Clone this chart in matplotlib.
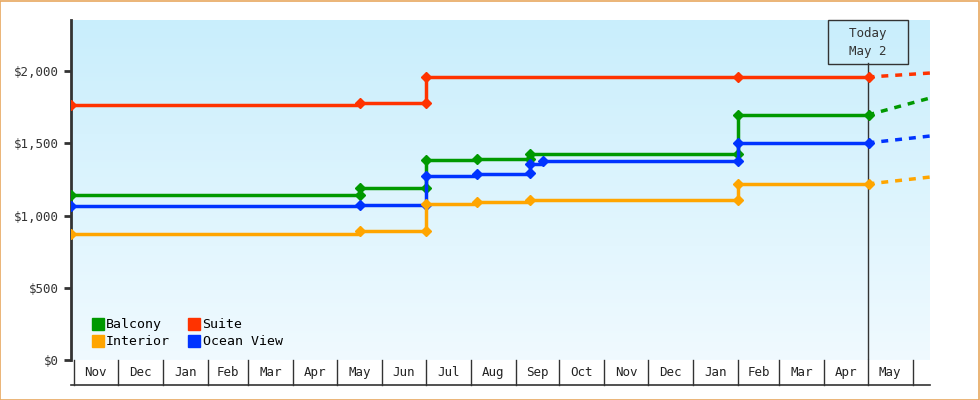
import numpy as np
import matplotlib.pyplot as plt
import matplotlib.dates as mdates
import matplotlib.transforms as mtransforms
from matplotlib.lines import Line2D
from matplotlib.patches import Rectangle
from datetime import date

plt.rcParams['font.family'] = ['DejaVu Sans Mono']

# price history per cabin type (date, price)
balcony_dates = ['2017-10-30', '2018-05-17', '2018-05-17', '2018-07-01', '2018-07-01', '2018-08-05',
                 '2018-09-11', '2018-09-11', '2019-02-01', '2019-02-01', '2019-05-02']
balcony_vals = [1142, 1142, 1190, 1190, 1384, 1391, 1391, 1425, 1425, 1695, 1695]
suite_dates = ['2017-10-30', '2018-05-17', '2018-07-01', '2018-07-01', '2019-02-01', '2019-05-02']
suite_vals = [1765, 1778, 1778, 1958, 1958, 1958]
ocean_dates = ['2017-10-30', '2018-05-17', '2018-07-01', '2018-07-01', '2018-08-05', '2018-09-11',
               '2018-09-11', '2018-09-20', '2019-02-01', '2019-02-01', '2019-05-02']
ocean_vals = [1066, 1073, 1073, 1273, 1287, 1294, 1356, 1377, 1377, 1502, 1502]
interior_dates = ['2017-10-30', '2018-05-17', '2018-07-01', '2018-07-01', '2018-08-05',
                  '2018-09-11', '2019-02-01', '2019-02-01', '2019-05-02']
interior_vals = [872, 893, 893, 1080, 1093, 1107, 1107, 1218, 1218]

# forecast end values
forecast_end = '2019-06-13'
forecast_vals = {'Balcony': 1813, 'Suite': 1986, 'Ocean View': 1550, 'Interior': 1266}

today = '2019-05-01'
months = ['Nov', 'Dec', 'Jan', 'Feb', 'Mar', 'Apr', 'May', 'Jun', 'Jul', 'Aug',
          'Sep', 'Oct', 'Nov', 'Dec', 'Jan', 'Feb', 'Mar', 'Apr', 'May']

series = [
    ('Balcony', balcony_dates, balcony_vals, '#009900'),
    ('Suite', suite_dates, suite_vals, '#ff3300'),
    ('Ocean View', ocean_dates, ocean_vals, '#0033ff'),
    ('Interior', interior_dates, interior_vals, '#ffa500'),
]

fig = plt.figure(figsize=(9.8, 4), dpi=100)
fig.patches.append(Rectangle((0.0005, 0.001), 0.998, 0.997, transform=fig.transFigure,
                             fill=False, edgecolor='#e8a860', linewidth=1.2))
ax = fig.add_axes([71 / 980, 40 / 400, (930 - 71) / 980, 340 / 400])

x0 = mdates.date2num(date(2017, 10, 30))
x1 = mdates.date2num(date(2019, 6, 13))
ymax = 2353
grad = np.linspace(0, 1, 256).reshape(-1, 1)
ax.imshow(grad, extent=[x0, x1, 0, ymax], aspect='auto', origin='upper', zorder=0,
          cmap=plt.matplotlib.colors.LinearSegmentedColormap.from_list('bg', ['#c9eefc', '#f0faff']))

handles = {}
for name, ds, vs, col in series:
    xs = mdates.datestr2num(ds)
    ax.plot(xs, vs, color=col, lw=2.5, drawstyle='steps-post', zorder=3)
    ax.plot(xs, vs, color=col, ls='none', marker='D', ms=5, zorder=3)
    ax.plot(mdates.datestr2num([today, forecast_end]), [vs[-1], forecast_vals[name]],
            color=col, lw=2.5, ls=(0, (2, 2)), zorder=3)
    handles[name] = Line2D([], [], color=col, marker='s', ls='none', ms=8)

# today marker
tx = mdates.datestr2num(today)
ax.axvline(tx, color='#333333', lw=1, zorder=2, ymax=2055 / ymax)
ax.text(tx, 2200, '  Today  \n  May 2  ', ha='center', va='center', fontsize=9, color='#333333', zorder=4,
        bbox=dict(boxstyle='square,pad=0.5', fc='none', ec='#333333', lw=1), linespacing=1.5)

ax.set_xlim(x0, x1)
ax.set_ylim(0, ymax)
ax.set_yticks(range(0, 2001, 500))
ax.set_yticklabels(['$0', '$500', '$1,000', '$1,500', '$2,000'])
ax.tick_params(axis='y', direction='out', length=5, width=2, color='#333333', labelsize=9, labelcolor='#333333')
ax.set_xticks([])
for s in ['top', 'right', 'bottom']:
    ax.spines[s].set_visible(False)
ax.spines['left'].set_linewidth(2)
ax.spines['left'].set_color('#333333')

# month table under the axis
trans = mtransforms.blended_transform_factory(ax.transData, ax.transAxes)
yb = -25 / 340
starts = [date(2017 + (10 + i) // 12, (10 + i) % 12 + 1, 1) for i in range(len(months) + 1)]
sx = [mdates.date2num(d) for d in starts]
for i, m in enumerate(months):
    ax.text((sx[i] + sx[i + 1]) / 2, yb / 2, m, transform=trans, ha='center', va='center',
            fontsize=9, color='#222222', clip_on=False)
for x in sx:
    ax.plot([x, x], [0, yb], transform=trans, color='#333333', lw=1, clip_on=False)
ax.plot([x0, x1], [yb, yb], transform=trans, color='#333333', lw=1.2, clip_on=False)

ax.legend([handles['Balcony'], handles['Interior'], handles['Suite'], handles['Ocean View']],
          ['Balcony', 'Interior', 'Suite', 'Ocean View'], ncol=2, loc='lower left',
          bbox_to_anchor=(0.008, 0.0), frameon=False, fontsize=9.5, handletextpad=0.05,
          columnspacing=1.2, labelspacing=0.3, handlelength=1.2)

fig.savefig('out.png', dpi=100)
